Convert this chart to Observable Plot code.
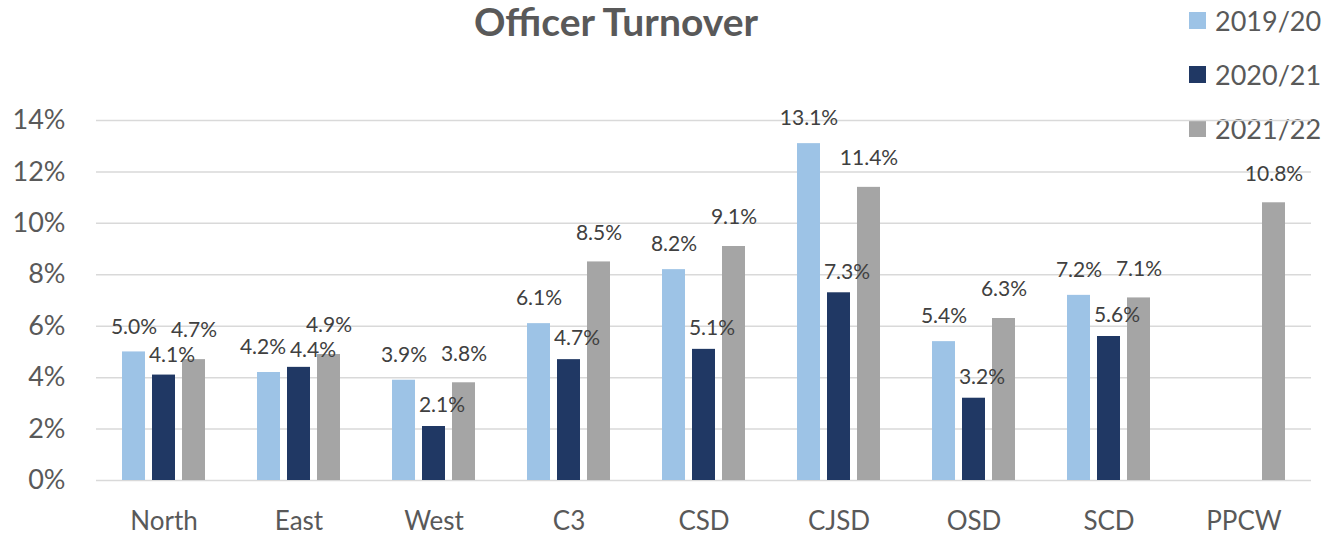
<!DOCTYPE html>
<html>
<head>
<meta charset="utf-8">
<script src="https://cdn.jsdelivr.net/npm/d3@7"></script>
<script src="https://cdn.jsdelivr.net/npm/@observablehq/plot@0.6"></script>
<style>
  html, body { margin: 0; padding: 0; background: #fff; }
  #wrap { position: relative; width: 1327px; height: 536px; font-family: Lato, sans-serif; }
  #title { position: absolute; left: 366px; top: 0px; width: 500px; text-align: center;
           font-size: 39px; font-weight: bold; color: #595959; line-height: 42px; }
  #legend { position: absolute; left: 1189px; top: 12px; }
  .item { display: flex; align-items: center; height: 17px; margin-bottom: 37px; }
  .sw { width: 17px; height: 17px; margin-right: 9px; }
  .lab { font-size: 27px; color: #595959; line-height: 17px; }
  svg { position: absolute; left: 0; top: 0; }
</style>
</head>
<body>
<div id="wrap">
  <div id="title">Officer Turnover</div>
  <div id="legend"></div>
</div>
<script>
const categories = ["North", "East", "West", "C3", "CSD", "CJSD", "OSD", "SCD", "PPCW"];
const series = ["2019/20", "2020/21", "2021/22"];
const v2019_20 = [5.0, 4.2, 3.9, 6.1, 8.2, 13.1, 5.4, 7.2, null];
const v2020_21 = [4.1, 4.4, 2.1, 4.7, 5.1, 7.3, 3.2, 5.6, null];
const v2021_22 = [4.7, 4.9, 3.8, 8.5, 9.1, 11.4, 6.3, 7.1, 10.8];
const colors = ["#9DC3E6", "#203864", "#A5A5A5"];
const yTicks = [0, 2, 4, 6, 8, 10, 12, 14];

const valuesBySeries = [v2019_20, v2020_21, v2021_22];
const rows = [];
categories.forEach((c, i) => {
  series.forEach((s, j) => {
    const v = valuesBySeries[j][i];
    if (v != null) rows.push({cat: c, series: s, value: v});
  });
});

const fmt = v => v.toFixed(1) + "%";
// base label placement per series
const labelStyle = [{dx: 0, dy: -25}, {dx: 8, dy: -21}, {dx: 0, dy: -29}];

function makeChart(labelRows) {
  const groups = d3.groups(labelRows, d => d.dx + "|" + d.dy);
  return Plot.plot({
    width: 1327,
    height: 536,
    marginTop: 120,
    marginBottom: 56,
    marginLeft: 96,
    marginRight: 16,
    style: {fontFamily: "Lato, sans-serif", background: "transparent"},
    fx: {domain: categories, padding: 0, label: null},
    x: {domain: series, paddingInner: 0.217, paddingOuter: 0.858, axis: null},
    y: {domain: [0, 14], label: null},
    color: {domain: series, range: colors},
    marks: [
      Plot.gridY(yTicks, {stroke: "#D9D9D9", strokeOpacity: 1, strokeWidth: 1.5}),
      Plot.axisY(yTicks, {tickSize: 0, tickPadding: 31, fontSize: 27, fill: "#595959",
        tickFormat: d => d + "%", label: null}),
      Plot.axisFx({anchor: "bottom", tickSize: 0, tickPadding: 31, fontSize: 26, fill: "#595959", label: null}),
      Plot.barY(rows, {fx: "cat", x: "series", y: "value", fill: "series"}),
      ...groups.map(([, g]) => Plot.text(g, {
        fx: "cat", x: "series", y: "value", text: d => fmt(d.value),
        dx: g[0].dx, dy: g[0].dy, fontSize: 21, fill: "#404040"
      }))
    ]
  });
}

// first pass: base placement, then nudge apart neighbouring labels that collide
let labelRows = rows.map(r => {
  const j = series.indexOf(r.series);
  return {...r, dx: labelStyle[j].dx, dy: labelStyle[j].dy};
});
const probe = makeChart(labelRows);
const y = probe.scale("y");
const xs = probe.scale("x");
const labelW = 46, labelH = 24, minGap = 50;
const px = r => xs.apply(r.series) + xs.bandwidth / 2 + r.dx;
const py = r => y.apply(r.value) + r.dy;
categories.forEach(c => {
  const [a, b, g] = series.map(s => labelRows.find(r => r.cat === c && r.series === s));
  if (a && b && Math.abs(py(a) - py(b)) < 20 && px(b) - px(a) < minGap) {
    const need = (minGap - (px(b) - px(a))) / 2;
    a.dx -= need; b.dx += need;
  }
  if (b && g && px(g) - px(b) < labelW && py(b) > py(g) && py(b) - py(g) < labelH) {
    b.dy += Math.ceil(labelH - (py(b) - py(g)));
  }
});

const chart = makeChart(labelRows);
document.getElementById("wrap").appendChild(chart);

const legend = document.getElementById("legend");
series.forEach((s, j) => {
  const item = document.createElement("div");
  item.className = "item";
  item.innerHTML = `<div class="sw" style="background:${colors[j]}"></div><div class="lab">${s}</div>`;
  legend.appendChild(item);
});
</script>
</body>
</html>
